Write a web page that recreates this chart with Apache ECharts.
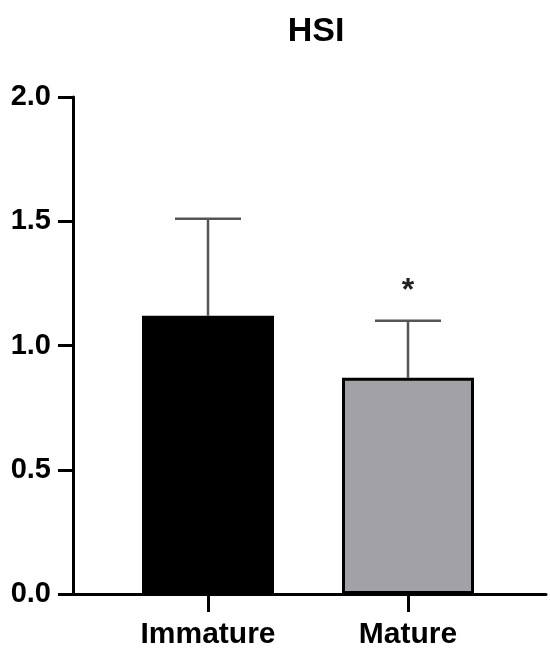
<!DOCTYPE html>
<html><head><meta charset="utf-8">
<script src="https://cdn.jsdelivr.net/npm/echarts@6/dist/echarts.min.js"></script>
<style>html,body{margin:0;padding:0;background:#fff}#c{width:550px;height:653px}</style>
</head><body><div id="c"></div>
<script>
var categories = ['Immature', 'Mature'];
var means = [1.12, 0.87];
var sds = [0.39, 0.23];
var marks = ['', '*'];
var barColors = ['#000000', '#a2a1a6'];
var yMin = 0, yMax = 2, yStep = 0.5;

var pos = categories.map(function (c, i) { return i; });
var chart = echarts.init(document.getElementById('c'));
var font = 'Liberation Sans, Arial, sans-serif';
chart.setOption({
  animation: false,
  title: { text: 'HSI', left: 311, top: 10, textAlign: 'center',
    textStyle: { fontFamily: font, fontWeight: 'bold', fontSize: 34, color: '#000' } },
  grid: { left: 73, right: 4, top: 97, bottom: 59 },
  xAxis: {
    type: 'value', min: -0.675, max: 1.69,
    splitLine: { show: false },
    axisLine: { onZero: false, lineStyle: { color: '#000', width: 3 } },
    axisTick: { show: true, customValues: pos, length: 18, lineStyle: { color: '#000', width: 3 } },
    axisLabel: { customValues: pos, margin: 26, color: '#000', fontFamily: font, fontWeight: 'bold', fontSize: 30,
      formatter: function (v) { return categories[Math.round(v)] || ''; } }
  },
  yAxis: {
    type: 'value', min: yMin, max: yMax, interval: yStep,
    splitLine: { show: false },
    axisLine: { show: true, onZero: false, lineStyle: { color: '#000', width: 3 } },
    axisTick: { show: true, length: 15, lineStyle: { color: '#000', width: 3 } },
    axisLabel: { margin: 22, color: '#000', fontFamily: font, fontWeight: 'bold', fontSize: 29,
      formatter: function (v) { return v.toFixed(1); } }
  },
  series: [
    {
      type: 'bar', barWidth: 132, z: 2,
      data: means.map(function (m, i) {
        return { value: [pos[i], m], itemStyle: { color: barColors[i], borderColor: '#000', borderWidth: 3 } };
      })
    },
    {
      type: 'custom', z: 1,
      data: means.map(function (m, i) { return [pos[i], m, m + sds[i], marks[i]]; }),
      renderItem: function (params, api) {
        var x = api.value(0);
        var base = api.coord([x, api.value(1)]);
        var top = api.coord([x, api.value(2)]);
        var i = params.dataIndex;
        var children = [
          { type: 'line', shape: { x1: top[0], y1: base[1], x2: top[0], y2: top[1] },
            style: { stroke: '#555', lineWidth: 2.5 } },
          { type: 'line', shape: { x1: top[0] - 33, y1: top[1], x2: top[0] + 33, y2: top[1] },
            style: { stroke: '#555', lineWidth: 2.5 } }
        ];
        if (marks[i]) {
          children.push({ type: 'text', x: top[0], y: top[1] - 29,
            style: { text: marks[i], fill: '#222', font: 'bold 32px ' + font, align: 'center', verticalAlign: 'middle' } });
        }
        return { type: 'group', children: children };
      }
    }
  ]
});
</script></body></html>
